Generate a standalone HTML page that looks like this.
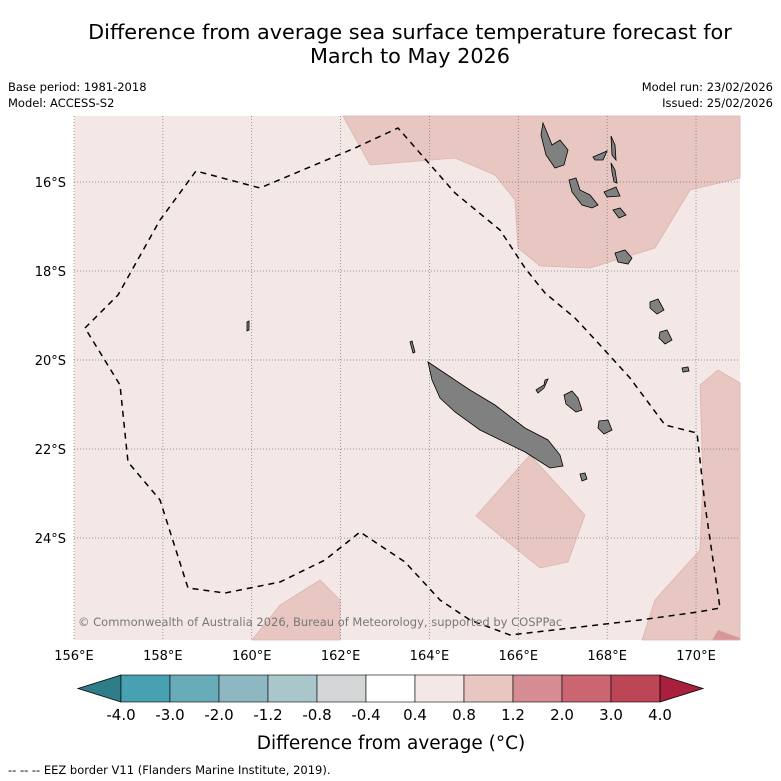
<!DOCTYPE html>
<html><head><meta charset="utf-8"><style>
body{margin:0;background:#fff;font-family:"Liberation Sans","DejaVu Sans",sans-serif;}
svg{display:block}
</style></head><body>
<svg id="c" width="781" height="781" viewBox="0 0 781 781" xmlns="http://www.w3.org/2000/svg" font-family="DejaVu Sans, Liberation Sans, sans-serif">
<text x="410" y="39" font-size="20.8" text-anchor="middle">Difference from average sea surface temperature forecast for</text>
<text x="410" y="63" font-size="20.8" text-anchor="middle">March to May 2026</text>
<text x="8" y="91" font-size="11.5">Base period: 1981-2018</text>
<text x="8" y="107" font-size="11.5">Model: ACCESS-S2</text>
<text x="773" y="91" font-size="11.5" text-anchor="end">Model run: 23/02/2026</text>
<text x="773" y="107" font-size="11.5" text-anchor="end">Issued: 25/02/2026</text>
<g id="map">
<rect x="74" y="116" width="666" height="524" fill="#f4e8e6"/>
<g fill="#e8c6c1" stroke="#dbb5b0" stroke-width="0.8">
<polygon points="343,116 740,116 740,178 690,190 655,248 590,268 540,266 518,248 515,200 495,175 455,158 370,165"/>
<polygon points="700,385 718,370 740,383 740,640 642,640 655,600 700,550 703,480"/>
<polygon points="476,516 530,455 585,515 568,562 540,568"/>
<polygon points="252,640 280,605 320,580 340,600 340,640"/>
<polygon points="712,640 718,630 740,638 740,640" fill="#d8959a"/>
</g>
<g id="grid"></g>
<polyline fill="none" stroke="#000" stroke-width="1.5" stroke-dasharray="6,5" points="85,328 118,295 160,220 196,171 260,188 355,148 398,128 455,193 500,230 525,268 545,293 575,318 600,345 630,378 665,425 697,433 705,505 720,608 698,612 640,620 580,627 510,635 470,620 440,600 405,562 360,532 325,560 280,582 225,593 188,588 160,500 128,462 120,385 85,328"/>
<g fill="#808080" stroke="#000" stroke-width="0.8">
<polygon points="428,362 440,370 452,378 470,390 495,405 525,428 548,440 560,455 563,466 550,468 525,452 480,430 455,412 440,398 432,380"/>
<polygon points="543,123 548,135 552,145 560,140 568,150 564,165 555,168 546,155 541,135"/>
<polygon points="569,180 576,178 580,190 590,195 598,205 592,208 582,205 572,192"/>
<polygon points="611,136 615,145 616,160 612,155"/>
<polygon points="593,157 607,151 603,160 595,160"/>
<polygon points="611,163 615,170 617,183 614,182 612,172"/>
<polygon points="604,192 616,187 620,196 607,197"/>
<polygon points="613,210 620,208 626,215 619,218"/>
<polygon points="615,253 625,250 632,258 628,264 618,262"/>
<polygon points="650,302 658,299 664,310 657,314 650,308"/>
<polygon points="660,332 667,330 672,340 665,344 659,338"/>
<polygon points="564,395 572,391 578,398 582,410 576,412 566,404"/>
<polygon points="599,421 608,420 612,430 604,434 598,428"/>
<polygon points="536,390 544,385 545,380 548,379 544,388 538,393"/>
<polygon points="580,474 585,473 587,479 582,481"/>
<polygon points="682,368 688,367 689,371 683,372"/>
<polygon points="247,322 249,321 249,330 247,331"/>
<polygon points="410,342 412,341 415,352 413,353"/>
</g>
<g id="ticks" font-size="13"></g>
<text x="78" y="626" font-size="11.5" fill="#777">© Commonwealth of Australia 2026, Bureau of Meteorology, supported by COSPPac</text>
</g>
<g id="cbar"></g>
<text x="391" y="749" font-size="18.5" text-anchor="middle">Difference from average (°C)</text>
<text x="8" y="774" font-size="11.5">--  --  -- EEZ border V11 (Flanders Marine Institute, 2019).</text>
</svg>
<script>
const lonTicks=[156,158,160,162,164,166,168,170];
const latTicks=[16,18,20,22,24];
const cbLevels=["-4.0","-3.0","-2.0","-1.2","-0.8","-0.4","0.4","0.8","1.2","2.0","3.0","4.0"];
const cbColors=["#47a1b1","#69acb9","#8db8c2","#a9c7cb","#d3d6d6","#ffffff","#f4e8e6","#e8c6c1","#d58d93","#ca6571","#bd4656"];
const cbUnder="#2f7d89", cbOver="#a8203e";
const NS="http://www.w3.org/2000/svg";
const xLon=l=>74+(l-156)*44.43;
const yLat=l=>182+(l-16)*44.5;
function mk(t,a,p){const e=document.createElementNS(NS,t);for(const k in a)e.setAttribute(k,a[k]);p.appendChild(e);return e;}
const grid=document.getElementById('grid'),ticks=document.getElementById('ticks');
lonTicks.forEach(l=>{const x=xLon(l);
 const g=mk('line',{x1:x,x2:x,y1:116,y2:640,stroke:'#777','stroke-width':0.7,'stroke-dasharray':'1,2'},grid);
 
 
 const t=mk('text',{x:x,y:660,'text-anchor':'middle'},ticks);t.textContent=l+'°E';
 
 });
latTicks.forEach(l=>{const y=yLat(l);
 const g=mk('line',{x1:74,x2:740,y1:y,y2:y,stroke:'#777','stroke-width':0.7,'stroke-dasharray':'1,2'},grid);
 
 
 const t=mk('text',{x:66,y:y+5,'text-anchor':'end'},ticks);t.textContent=l+'°S';
 
 });
const cb=document.getElementById('cbar');
const x0=121,w=49,y0=675,h=27;
const tl=mk('polygon',{points:`${x0},${y0} ${x0},${y0+h} 78,${y0+h/2}`,fill:cbUnder,stroke:'#000','stroke-width':0.8},cb);


cbColors.forEach((c,i)=>{const r=mk('rect',{x:x0+i*w,y:y0,width:w,height:h,fill:c,stroke:'#000','stroke-width':0.6},cb);
 
 });
const xe=x0+cbColors.length*w;
const tr=mk('polygon',{points:`${xe},${y0} ${xe},${y0+h} 703,${y0+h/2}`,fill:cbOver,stroke:'#000','stroke-width':0.8},cb);


cbLevels.forEach((v,i)=>{const t=mk('text',{x:x0+i*w,y:720,'text-anchor':'middle','font-size':15},cb);t.textContent=v;
 
 });
</script>
</body></html>
